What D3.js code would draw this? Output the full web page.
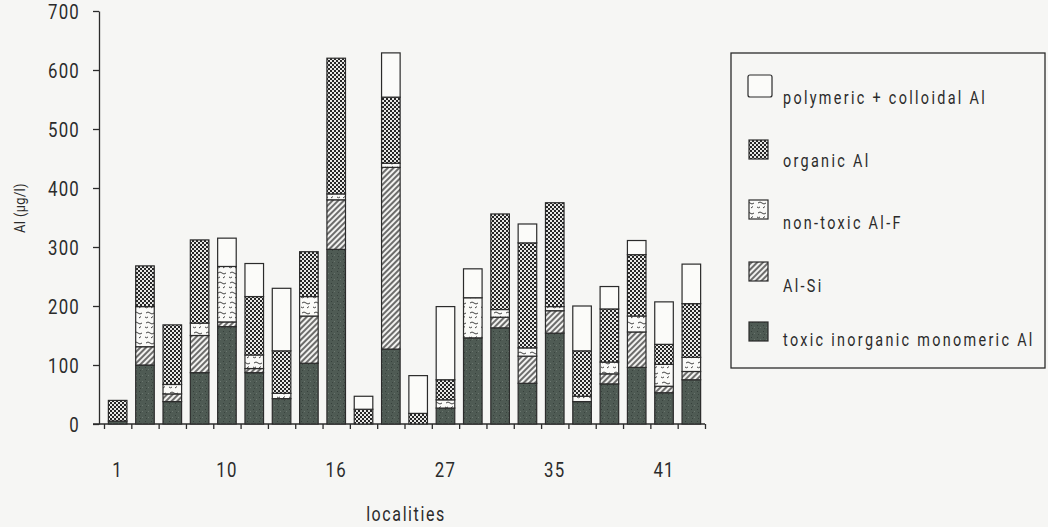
<!DOCTYPE html>
<html>
<head>
<meta charset="utf-8">
<script src="https://cdn.jsdelivr.net/npm/d3@7/dist/d3.min.js"></script>
<style>
  body { margin: 0; background: #f6f6f4; }
  svg { display: block; }
  text { font-family: Roboto, "DejaVu Sans", sans-serif; fill: #2b2b2b; }
</style>
</head>
<body>
<svg width="1048" height="527"></svg>
<script>
// localities (one bar each), only every fourth is labelled on the axis
var localities = d3.range(22);
var tickLabels = ["1", "", "", "", "10", "", "", "", "16", "", "", "", "27", "", "", "", "35", "", "", "", "41", ""];

// Al fractions in ug/l, bottom to top
var toxic   = [5, 100, 38, 87, 165, 87, 43, 103, 296, 0, 127, 0, 27, 146, 163, 69, 154, 38, 68, 96, 53, 75];
var alSi    = [0, 31, 13, 63, 8, 7, 0, 80, 84, 0, 308, 0, 0, 0, 18, 46, 38, 0, 17, 60, 11, 14];
var alF     = [0, 68, 16, 21, 94, 23, 9, 33, 10, 0, 7, 0, 14, 68, 13, 14, 7, 9, 20, 27, 37, 24];
var organic = [35, 69, 101, 141, 0, 99, 72, 76, 230, 25, 112, 18, 34, 0, 162, 178, 176, 77, 90, 104, 34, 91];
var poly    = [0, 0, 0, 0, 48, 56, 106, 0, 0, 22, 75, 64, 124, 49, 0, 32, 0, 76, 38, 24, 72, 67];

var yTicks = [0, 100, 200, 300, 400, 500, 600, 700];

var keys = ["toxic", "alSi", "alF", "organic", "poly"];
var legendNames = {
    poly: "polymeric + colloidal Al",
    organic: "organic Al",
    alF: "non-toxic Al-F",
    alSi: "Al-Si",
    toxic: "toxic inorganic monomeric Al"
};

var rows = localities.map(function (i) {
    return { id: i, toxic: toxic[i], alSi: alSi[i], alF: alF[i], organic: organic[i], poly: poly[i] };
});

var svg = d3.select("svg");
var ink = "#2b2b2b";
var squeeze = 0.8; // the print uses a condensed face

/******************************************
  fill patterns (scanned print look)
******************************************/
var defs = svg.append("defs");

var pDark = defs.append("pattern").attr("id", "p-toxic")
    .attr("patternUnits", "userSpaceOnUse").attr("width", 6).attr("height", 6);
pDark.append("rect").attr("width", 6).attr("height", 6).attr("fill", "#4f5b54");
pDark.append("rect").attr("x", 1).attr("y", 1).attr("width", 1).attr("height", 1).attr("fill", "#36403b");
pDark.append("rect").attr("x", 4).attr("y", 3).attr("width", 1).attr("height", 1).attr("fill", "#6b766f");
pDark.append("rect").attr("x", 2).attr("y", 4).attr("width", 1).attr("height", 1).attr("fill", "#3a443f");

var pHatch = defs.append("pattern").attr("id", "p-alSi")
    .attr("patternUnits", "userSpaceOnUse").attr("width", 4).attr("height", 4)
    .attr("patternTransform", "rotate(45)");
pHatch.append("rect").attr("width", 4).attr("height", 4).attr("fill", "#f2f2f0");
pHatch.append("line").attr("x1", 1).attr("y1", 0).attr("x2", 1).attr("y2", 4)
    .attr("stroke", "#333").attr("stroke-width", 1.4);

var pChk = defs.append("pattern").attr("id", "p-organic")
    .attr("patternUnits", "userSpaceOnUse").attr("width", 4).attr("height", 4);
pChk.append("rect").attr("width", 4).attr("height", 4).attr("fill", "#e8e8e6");
pChk.append("rect").attr("x", 0).attr("y", 0).attr("width", 2).attr("height", 2).attr("fill", "#262626");
pChk.append("rect").attr("x", 2).attr("y", 2).attr("width", 2).attr("height", 2).attr("fill", "#262626");

var pSq = defs.append("pattern").attr("id", "p-alF")
    .attr("patternUnits", "userSpaceOnUse").attr("width", 12).attr("height", 10);
pSq.append("rect").attr("width", 12).attr("height", 10).attr("fill", "#fafaf8");
pSq.append("path").attr("d", "M2,3 q2,-2 4,0 t4,0 M1,7 q1.5,1.5 3,0 M7,8 l2,-1.5")
    .attr("fill", "none").attr("stroke", "#444").attr("stroke-width", 1);

var fills = {
    toxic: "url(#p-toxic)",
    alSi: "url(#p-alSi)",
    alF: "url(#p-alF)",
    organic: "url(#p-organic)",
    poly: "#fbfbf9"
};

/******************************************
  scales and axes
******************************************/
var x = d3.scaleBand().domain(localities).range([104, 705]).paddingInner(0.32).paddingOuter(0.16);
var xEdges = d3.scaleLinear().domain([0, localities.length]).range([104, 705]);
var y = d3.scaleLinear().domain([0, 700]).range([424, 11]);

var yAxis = d3.axisLeft(y).tickValues(yTicks).tickSize(6).tickSizeOuter(0);
var gy = svg.append("g").attr("transform", "translate(99,0)").call(yAxis);
gy.select(".domain").attr("stroke", ink).attr("stroke-width", 1.3);
gy.selectAll(".tick line").attr("stroke", ink).attr("stroke-width", 1.3);
gy.selectAll(".tick text")
    .attr("x", -19 / squeeze)
    .attr("dy", "0.36em")
    .attr("transform", "scale(" + squeeze + ",1)")
    .style("font-size", "21px")
    .style("letter-spacing", "1.5px")
    .style("font-family", "Roboto, DejaVu Sans, sans-serif")
    .attr("fill", ink);

// boundary ticks between localities
var edgeAxis = d3.axisBottom(xEdges).tickValues(d3.range(localities.length + 1))
    .tickSize(5).tickSizeOuter(0).tickFormat("");
var gx = svg.append("g").attr("transform", "translate(0,424)").call(edgeAxis);
gx.select(".domain").remove();
gx.selectAll(".tick line").attr("stroke", ink).attr("stroke-width", 1.3);

svg.append("line")
    .attr("x1", 93).attr("x2", 705)
    .attr("y1", 424).attr("y2", 424)
    .attr("stroke", ink).attr("stroke-width", 1.3);

// labels under some localities
var labelAxis = d3.axisBottom(x).tickSize(0)
    .tickFormat(function (d) { return tickLabels[d]; });
var gl = svg.append("g").attr("transform", "translate(0,424)").call(labelAxis);
gl.select(".domain").remove();
gl.selectAll(".tick text")
    .attr("y", 53)
    .attr("dy", 0)
    .attr("transform", "scale(" + squeeze + ",1)")
    .style("font-size", "21px")
    .style("letter-spacing", "1.5px")
    .style("font-family", "Roboto, DejaVu Sans, sans-serif")
    .attr("fill", ink);

svg.append("text")
    .attr("transform", "translate(406,521) scale(" + squeeze + ",1)")
    .attr("text-anchor", "middle")
    .style("font-size", "20px")
    .style("letter-spacing", "2px")
    .text("localities");

svg.append("text")
    .attr("transform", "translate(25,208) rotate(-90) scale(0.85,1)")
    .attr("text-anchor", "middle")
    .style("font-size", "15px")
    .style("letter-spacing", "0.5px")
    .text("Al (\u03bcg/l)");

/******************************************
  stacked bars
******************************************/
var stacked = d3.stack().keys(keys)(rows);

svg.append("g")
    .selectAll("g")
    .data(stacked)
    .enter()
    .append("g")
    .attr("fill", function (s) { return fills[s.key]; })
    .selectAll("rect")
    .data(function (s) { return s.filter(function (d) { return d[1] - d[0] > 0; }); })
    .enter()
    .append("rect")
    .attr("x", function (d) { return x(d.data.id); })
    .attr("y", function (d) { return y(d[1]); })
    .attr("width", x.bandwidth())
    .attr("height", function (d) { return y(d[0]) - y(d[1]); })
    .attr("stroke", ink)
    .attr("stroke-width", 1.2);

/******************************************
  legend
******************************************/
svg.append("rect")
    .attr("x", 731).attr("y", 53)
    .attr("width", 314).attr("height", 315)
    .attr("fill", "none")
    .attr("stroke", ink)
    .attr("stroke-width", 1.3);

var legendOrder = ["poly", "organic", "alF", "alSi", "toxic"];
var swatchY = [75, 140, 200, 262, 322];
var textY = [104, 167, 229, 292, 346];

legendOrder.forEach(function (k, i) {
    var big = k === "poly";
    svg.append("rect")
        .attr("x", big ? 748 : 749)
        .attr("y", swatchY[i])
        .attr("width", big ? 24 : 19)
        .attr("height", big ? 22 : 19)
        .attr("rx", big ? 2 : 0)
        .attr("fill", fills[k])
        .attr("stroke", ink)
        .attr("stroke-width", 1.2);
    svg.append("text")
        .attr("transform", "translate(783," + textY[i] + ") scale(" + squeeze + ",1)")
        .style("font-size", "18px")
        .style("letter-spacing", "2.9px")
        .text(legendNames[k]);
});
</script>
</body>
</html>
